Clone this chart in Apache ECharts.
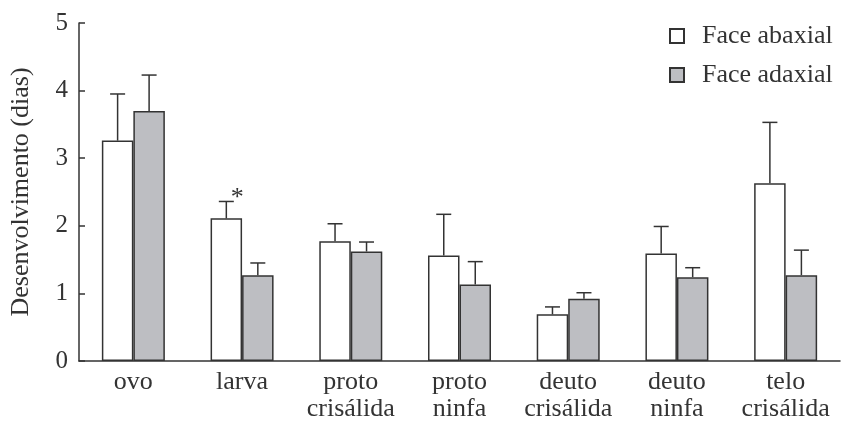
<!DOCTYPE html>
<html>
<head>
<meta charset="utf-8">
<script src="https://cdn.jsdelivr.net/npm/echarts@6/dist/echarts.min.js"></script>
<style>
html,body{margin:0;padding:0;background:#fff;}
#chart{width:841px;height:423px;}
</style>
</head>
<body>
<div id="chart"></div>
<script>
// ---- data ----
const categories = ['ovo', 'larva', 'proto\ncrisálida', 'proto\nninfa', 'deuto\ncrisálida', 'deuto\nninfa', 'telo\ncrisálida'];
const seriesNames = ['Face abaxial', 'Face adaxial'];
const abaxialMean = [3.26, 2.11, 1.77, 1.56, 0.69, 1.59, 2.63];
const abaxialErr  = [0.69, 0.25, 0.26, 0.61, 0.11, 0.40, 0.90];
const adaxialMean = [3.70, 1.27, 1.62, 1.13, 0.92, 1.24, 1.27];
const adaxialErr  = [0.53, 0.18, 0.14, 0.34, 0.09, 0.14, 0.37];
const abaxialMarks = ['', '*', '', '', '', '', ''];
const adaxialMarks = ['', '', '', '', '', '', ''];
const yTicks = [0, 1, 2, 3, 4, 5];

// ---- style ----
const FONT = '"Liberation Serif", "Times New Roman", serif';
const INK = '#333333';
const BAR_W = 31.5;
const CAP = 7.5;

function errData(mean, err, marks) {
  return mean.map((m, i) => [i, m, err[i], marks[i]]);
}

function errRenderer(offset) {
  return function (params, api) {
    const i = api.value(0);
    const m = api.value(1);
    const e = api.value(2);
    const base = api.coord([i, m]);
    const top = api.coord([i, m + e]);
    const x = base[0] + offset;
    const style = { stroke: INK, lineWidth: 1.5 };
    const children = [
      { type: 'line', shape: { x1: x, y1: base[1], x2: x, y2: top[1] }, style: style },
      { type: 'line', shape: { x1: x - CAP, y1: top[1], x2: x + CAP, y2: top[1] }, style: style }
    ];
    const label = api.value(3);
    if (label) {
      children.push({
        type: 'text',
        style: { text: label, x: x + 11, y: top[1] - 3, font: '26px ' + FONT, fill: INK, align: 'center', verticalAlign: 'middle' }
      });
    }
    return { type: 'group', children: children };
  };
}

const chart = echarts.init(document.getElementById('chart'), null, { renderer: 'canvas' });
chart.setOption({
  animation: false,
  backgroundColor: '#ffffff',
  textStyle: { fontFamily: FONT, color: INK },
  grid: { left: 76, right: 1, top: 23, bottom: 61, containLabel: false },
  legend: {
    data: seriesNames,
    orient: 'vertical',
    left: 669,
    top: 23,
    padding: 0,
    itemWidth: 14,
    itemHeight: 14,
    itemGap: 13,
    icon: 'rect',
    textStyle: { fontFamily: FONT, fontSize: 26, color: INK, padding: [0, 0, 0, 13] }
  },
  xAxis: {
    type: 'category',
    data: categories,
    axisLine: { lineStyle: { color: INK, width: 1.5 } },
    axisTick: { show: false },
    axisLabel: { fontFamily: FONT, fontSize: 26, color: INK, lineHeight: 27, margin: 8, interval: 0 }
  },
  yAxis: {
    type: 'value',
    min: 0,
    max: 5,
    interval: 1,
    name: 'Desenvolvimento (dias)',
    nameLocation: 'middle',
    nameGap: 45,
    nameTextStyle: { fontFamily: FONT, fontSize: 26, color: INK },
    axisLine: { show: true, lineStyle: { color: INK, width: 1.5 } },
    axisTick: { show: true, inside: true, length: 6, lineStyle: { color: INK, width: 1.5 } },
    axisLabel: { fontFamily: FONT, fontSize: 25, color: INK, margin: 11,
      formatter: v => yTicks.indexOf(v) >= 0 ? String(v) : '' },
    splitLine: { show: false }
  },
  series: [
    {
      name: seriesNames[0], type: 'bar', data: abaxialMean, barWidth: BAR_W, barGap: '0%',
      itemStyle: { color: '#ffffff', borderColor: INK, borderWidth: 1.5 }
    },
    {
      name: seriesNames[1], type: 'bar', data: adaxialMean, barWidth: BAR_W, barGap: '0%',
      itemStyle: { color: '#bdbec2', borderColor: INK, borderWidth: 1.5 }
    },
    {
      type: 'custom', name: 'err-abaxial', data: errData(abaxialMean, abaxialErr, abaxialMarks),
      encode: { x: 0, y: 1 }, renderItem: errRenderer(-BAR_W / 2), z: 5, silent: true
    },
    {
      type: 'custom', name: 'err-adaxial', data: errData(adaxialMean, adaxialErr, adaxialMarks),
      encode: { x: 0, y: 1 }, renderItem: errRenderer(BAR_W / 2), z: 5, silent: true
    }
  ]
});
</script>
</body>
</html>
